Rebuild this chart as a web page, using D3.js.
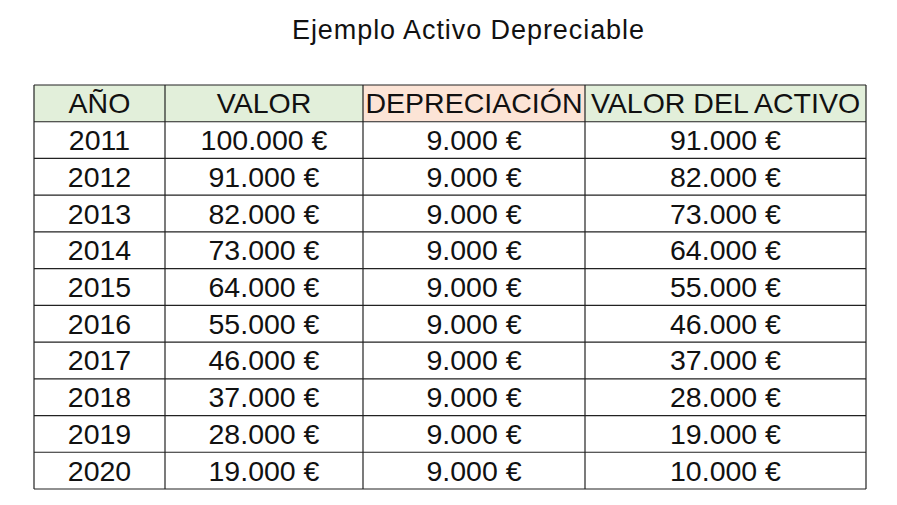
<!DOCTYPE html><html><head><meta charset="utf-8">
<script src="https://cdn.jsdelivr.net/npm/d3@7"></script>
<style>body{margin:0;background:#fff}</style></head><body>
<svg id="c" width="897" height="505"></svg>
<script>
const headers=["AÑO","VALOR","DEPRECIACIÓN","VALOR DEL ACTIVO"];
const headerColors=["#e2efda","#e2efda","#fce4d6","#e2efda"];
const years=[2011,2012,2013,2014,2015,2016,2017,2018,2019,2020];
const valor=[100000,91000,82000,73000,64000,55000,46000,37000,28000,19000];
const depreciacion=[9000,9000,9000,9000,9000,9000,9000,9000,9000,9000];
const valorActivo=[91000,82000,73000,64000,55000,46000,37000,28000,19000,10000];
const colEdges=[34,165,363,585,866];
const svg=d3.select("#c");
const font="'Liberation Sans', Arial, sans-serif";
svg.append("text").attr("x",468).attr("y",39).attr("text-anchor","middle")
 .attr("font-family",font).attr("font-size",27).attr("textLength",352).attr("fill","#111").text("Ejemplo Activo Depreciable");
const y=d3.scaleLinear().domain([0,11]).range([85,489]);
const fmt=v=>v.toLocaleString("de-DE")+" €";
const rows=[headers].concat(years.map((yr,i)=>[String(yr),fmt(valor[i]),fmt(depreciacion[i]),fmt(valorActivo[i])]));
rows.forEach((r,ri)=>{
 r.forEach((t,ci)=>{
  const x0=colEdges[ci],x1=colEdges[ci+1];
  if(ri===0) svg.append("rect").attr("x",x0).attr("y",y(0)).attr("width",x1-x0).attr("height",y(1)-y(0)).attr("fill",headerColors[ci]);
  svg.append("text").attr("x",(x0+x1)/2).attr("y",(y(ri)+y(ri+1))/2+10).attr("text-anchor","middle")
   .attr("font-family",font).attr("font-size",28.5).attr("fill","#111").text(t);
 });
});
const g=svg.append("g").attr("stroke","#222").attr("stroke-width",1.2);
d3.range(12).forEach(i=>g.append("line").attr("x1",colEdges[0]).attr("x2",colEdges[4]).attr("y1",y(i)).attr("y2",y(i)));
colEdges.forEach(x=>g.append("line").attr("x1",x).attr("x2",x).attr("y1",y(0)).attr("y2",y(11)));
</script></body></html>
